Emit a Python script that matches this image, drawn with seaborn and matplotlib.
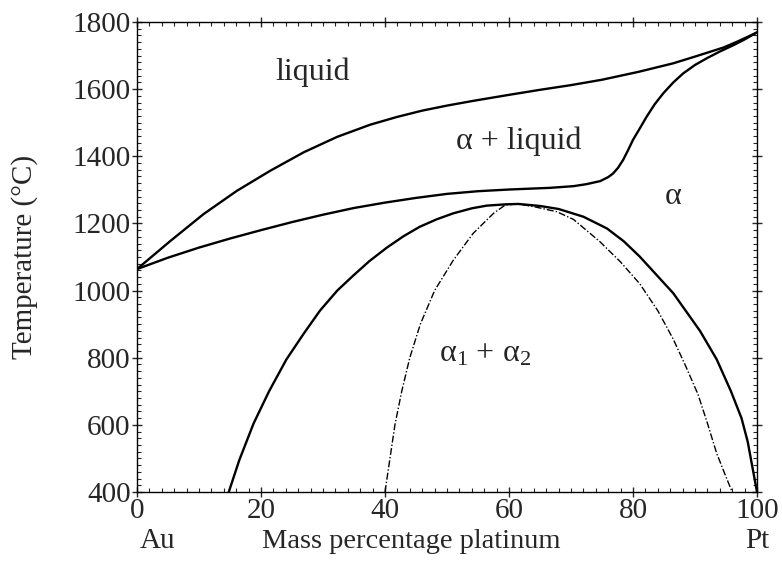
import numpy as np
import pandas as pd
import matplotlib
matplotlib.use('Agg')
import matplotlib.pyplot as plt
from matplotlib.ticker import MultipleLocator
import seaborn as sns

# DATA
# liquidus
liq_x = [0, 5.4, 10.75, 16.1, 21.5, 26.9, 32.3, 37.6, 41.9, 46, 50, 54.2, 60, 65, 70, 75, 81, 86.5, 90, 94.6, 97, 100]
liq_t = [1064, 1148, 1228, 1297, 1357, 1412, 1458, 1494, 1517, 1536, 1551, 1565, 1583, 1598, 1612, 1628, 1652, 1677, 1697, 1724, 1743, 1769]

# solidus
sol_x = [0, 5, 10, 15, 20, 25, 30, 35, 40, 45, 50, 55, 60, 66.6, 70.4, 72.5, 74.7, 76, 76.8, 77.6, 78.4, 79.2, 80, 81,
         82.2, 83.5, 84.9, 86.5, 88.1, 90, 91.9, 94, 96.2, 98, 100]
sol_t = [1064, 1098, 1128, 1155, 1180, 1204, 1226, 1246, 1262, 1276, 1288, 1296, 1301, 1306, 1311, 1317, 1326, 1338,
         1349, 1366, 1389, 1418, 1449, 1480, 1518, 1555, 1588, 1620, 1647, 1672, 1692, 1712, 1731, 1748, 1769]

# miscibility gap (solid line)
gap_x = [14.8, 16.5, 18.8, 21.3, 24.1, 26.9, 29.5, 32.3, 34.9, 37.5, 40.3, 43, 45.6, 48.3, 51, 54, 56.4, 59.6, 61.5,
         65, 68, 72, 75.8, 78.5, 81.1, 86.5, 90.8, 93.5, 95.8, 97.5, 98.5, 99.3, 100]
gap_t = [400, 495, 604, 700, 795, 872, 940, 1000, 1045, 1088, 1128, 1162, 1190, 1212, 1230, 1245, 1253, 1257, 1258,
         1252, 1243, 1220, 1185, 1147, 1101, 992, 880, 795, 700, 620, 550, 470, 400]

# spinodal (dash-dot line)
spin_x = [40, 40.8, 41.6, 42.7, 44, 45.7, 48, 51, 54.2, 57.5, 59.4, 61.5, 64, 67.7, 70.4, 74.7, 78, 81.1, 84, 86.5,
          88.5, 90.5, 92, 93.5, 95, 96]
spin_t = [400, 500, 600, 700, 800, 900, 1000, 1090, 1170, 1230, 1255, 1258, 1250, 1235, 1212, 1145, 1085, 1020, 940,
          855, 775, 690, 605, 515, 445, 400]

xticks = [0, 20, 40, 60, 80, 100]
yticks = [400, 600, 800, 1000, 1200, 1400, 1600, 1800]

curves = {
    'liquidus': pd.DataFrame({'x': liq_x, 't': liq_t}),
    'solidus': pd.DataFrame({'x': sol_x, 't': sol_t}),
    'gap': pd.DataFrame({'x': gap_x, 't': gap_t}),
}
spin = pd.DataFrame({'x': spin_x, 't': spin_t})

sns.set_style('ticks')
plt.rcParams['font.family'] = ['Liberation Serif', 'DejaVu Serif']
plt.rcParams['mathtext.default'] = 'regular'

fig = plt.figure(figsize=(7.82, 5.65), dpi=100)
ax = fig.add_axes([137 / 782, 73 / 565, 620 / 782, 470 / 565])

for name, d in curves.items():
    sns.lineplot(data=d, x='x', y='t', ax=ax, color='black', lw=1.7,
                 estimator=None, sort=False)
sns.lineplot(data=spin, x='x', y='t', ax=ax, color='black', lw=1.0,
             estimator=None, sort=False)
ax.lines[-1].set_linestyle((0, (5, 1.5, 1, 1.5)))

ax.set_xlim(0, 100)
ax.set_ylim(400, 1800)
ax.set_xticks(xticks)
ax.set_yticks(yticks)
ax.xaxis.set_minor_locator(MultipleLocator(2))
ax.yaxis.set_minor_locator(MultipleLocator(20))
ax.tick_params(which='major', direction='inout', length=7, width=1,
               labelsize=21, top=True, right=True, pad=1)
ax.tick_params(which='minor', direction='in', length=3, width=0.8,
               top=True, right=True)
for s in ax.spines.values():
    s.set_linewidth(1.0)
    s.set_color('black')

ax.set_xlabel('')
ax.set_ylabel('Temperature (°C)', fontsize=21)
ax.yaxis.set_label_coords(-0.16, 0.5)

fig.text(158 / 782, 1 - 541 / 565, 'Au', fontsize=21, ha='center', va='center')
fig.text(757 / 782, 1 - 541 / 565, 'Pt', fontsize=21, ha='center', va='center')
fig.text(411 / 782, 1 - 541 / 565, 'Mass percentage platinum', fontsize=20.5,
         ha='center', va='center')

ax.text(28.4, 1651, 'liquid', fontsize=23, ha='center', va='center')
ax.text(61.6, 1446, 'α + liquid', fontsize=23, ha='center', va='center')
ax.text(86.5, 1279, 'α', fontsize=23, ha='center', va='center')
ax.text(56.1, 812, r'$α_1$ + $α_2$', fontsize=23, ha='center', va='center')

fig.savefig('out.png', dpi=100)
